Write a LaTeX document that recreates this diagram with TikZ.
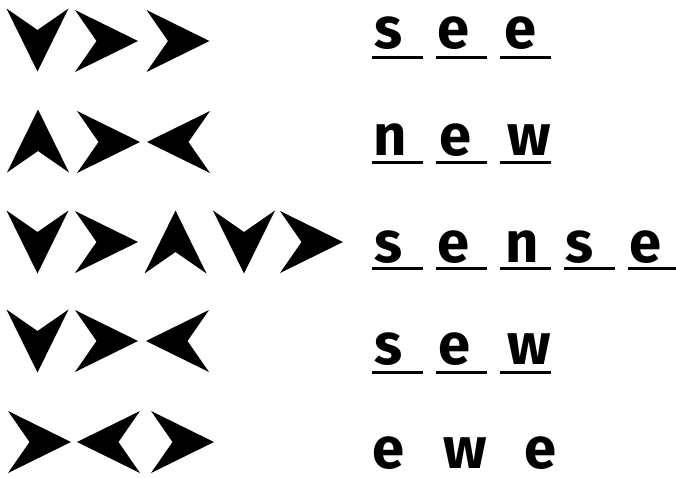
\documentclass[tikz,border=0pt]{standalone}
\usepackage{fontspec}
\setmainfont{Fira Sans}
\tikzset{
  chevfill/.style={fill=black},
  letternd/.style={font=\fontsize{58}{58}\selectfont\bfseries, inner sep=0pt, anchor=base},
  blankln/.style={line width=3pt, black},
}
% chevron: #1,#2 = centre, #3 = direction angle
\newcommand{\chev}[3]{%
  \fill[chevfill, shift={(#1,#2)}, rotate=#3] (31.5,0) -- (-31.5,31) -- (-10,0) -- (-31.5,-31) -- cycle;
}
% underline slot: #1 = left x, #2 = y
\newcommand{\blank}[2]{%
  \draw[blankln] (#1,#2) -- ++(51,0);
}

\begin{document}
\begin{tikzpicture}[x=1pt, y=-1pt]
    \useasboundingbox (0,0) rectangle (676,477);
    % row 1: see
    \chev{37.5}{40}{-90}
    \chev{106.5}{41}{0}
    \chev{178}{41}{0}
    \node[letternd] (r1a) at (388,48) {s};
    \node[letternd] (r1b) at (453,48) {e};
    \node[letternd] (r1c) at (520,48) {e};
    \blank{372}{57} \blank{436}{57} \blank{500}{57}
    % row 2: new
    \chev{38}{141}{90}
    \chev{108.5}{142}{0}
    \chev{178.5}{142}{180}
    \node[letternd] (r2a) at (390,155) {n};
    \node[letternd] (r2b) at (455,155) {e};
    \node[letternd] (r2c) at (529,155) {w};
    \blank{372}{162} \blank{436}{162} \blank{500}{162}
    % row 3: sense
    \chev{37.5}{242}{-90}
    \chev{106.5}{242}{0}
    \chev{175.5}{242}{90}
    \chev{244}{242}{-90}
    \chev{311.5}{242}{0}
    \node[letternd] (r3a) at (388,262) {s};
    \node[letternd] (r3b) at (453,262) {e};
    \node[letternd] (r3c) at (522,262) {n};
    \node[letternd] (r3d) at (579,262) {s};
    \node[letternd] (r3e) at (645,262) {e};
    \blank{372}{268} \blank{436}{268} \blank{500}{268} \blank{564}{268} \blank{628}{268}
    % row 4: sew
    \chev{37.5}{341}{-90}
    \chev{106.5}{341}{0}
    \chev{177.5}{341}{180}
    \node[letternd] (r4a) at (388,364) {s};
    \node[letternd] (r4b) at (454,364) {e};
    \node[letternd] (r4c) at (529,364) {w};
    \blank{372}{372} \blank{436}{372} \blank{500}{372}
    % row 5: ewe, no blanks
    \chev{39.5}{442}{0}
    \chev{108.5}{442}{180}
    \chev{182.5}{442}{0}
    \node[letternd] (r5a) at (389,468) {e};
    \node[letternd] (r5b) at (465,468) {w};
    \node[letternd] (r5c) at (540,468) {e};
  \end{tikzpicture}
\end{document}
